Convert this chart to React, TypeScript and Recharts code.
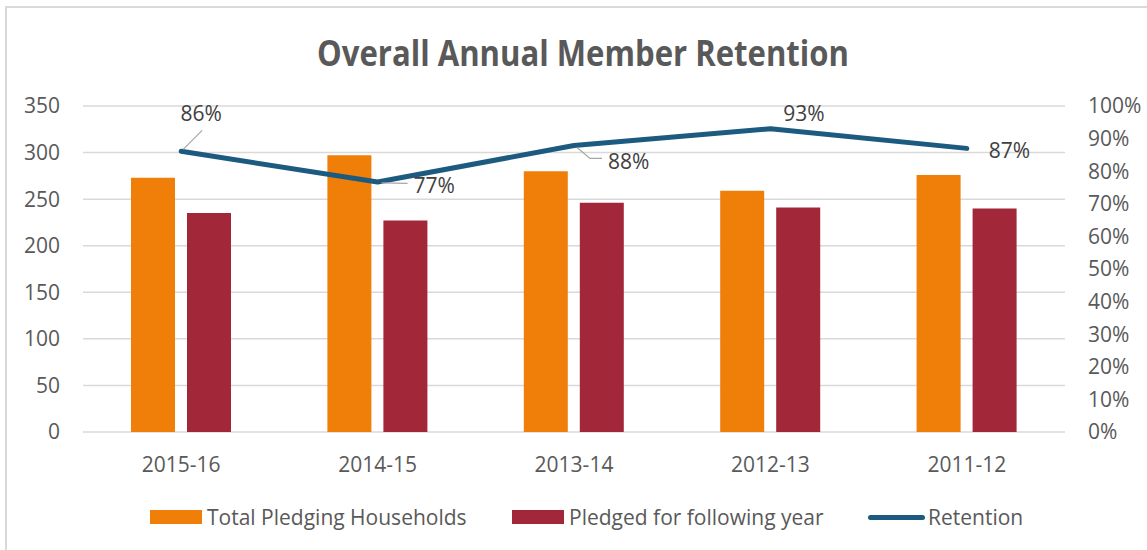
import React from 'react';
import { ComposedChart, Bar, Line, XAxis, YAxis, CartesianGrid, Legend, LabelList } from 'recharts';

const categories = ['2015-16', '2014-15', '2013-14', '2012-13', '2011-12'];
const totalPledging = [273, 297, 280, 259, 276];
const pledgedFollowing = [235, 227, 246, 241, 240];
const retention = [0.861, 0.767, 0.879, 0.93, 0.87];
const leftTicks = [0, 50, 100, 150, 200, 250, 300, 350];
const rightTicks = [0, 0.1, 0.2, 0.3, 0.4, 0.5, 0.6, 0.7, 0.8, 0.9, 1];

const data = categories.map((c, i) => ({
  category: c,
  total: totalPledging[i],
  pledged: pledgedFollowing[i],
  retention: retention[i],
}));

const FONT = '"Open Sans", "Noto Sans", sans-serif';
const AXIS_COLOR = '#595959';
const ORANGE = '#F07F09';
const RED = '#A12739';
const BLUE = '#1C5A80';

const labelPlacement: Record<number, { dx: number; dy: number; anchor: string; leader?: number[][] }> = {
  0: { dx: 20, dy: -38, anchor: 'middle', leader: [[2, -2], [21, -21]] },
  1: { dx: 36, dy: 3.5, anchor: 'start', leader: [[4, 1], [30, 1.5]] },
  2: { dx: 34, dy: 15.5, anchor: 'start', leader: [[3, 2], [16, 13], [28, 13]] },
  3: { dx: 33.5, dy: -16, anchor: 'middle' },
  4: { dx: 22, dy: 1.5, anchor: 'start' },
};

const RetentionLabel = (props: any) => {
  const { x, y, value, index } = props;
  const p = labelPlacement[index] || { dx: 0, dy: -15, anchor: 'middle' };
  return (
    <g>
      {p.leader && (
        <polyline
          points={p.leader.map(([a, b]) => `${x + a},${y + b}`).join(' ')}
          fill="none"
          stroke="#A6A6A6"
          strokeWidth={1.2}
        />
      )}
      <text
        x={x + p.dx}
        y={y + p.dy}
        textAnchor={p.anchor as any}
        dominantBaseline="central"
        fill="#404040"
        fontSize={21}
        fontFamily={FONT}
      >
        {`${Math.round(value * 100)}%`}
      </text>
    </g>
  );
};

const legendPositions = [150, 512, 868];

const LegendContent = (props: any) => {
  const payload = props.payload || [];
  const order = ['total', 'pledged', 'retention'];
  const items = order.map((k) => payload.find((p: any) => p.dataKey === k)).filter(Boolean);
  return (
    <div style={{ position: 'relative', width: 1147, height: 40 }}>
      {items.map((item: any, i: number) => (
        <div
          key={item.dataKey}
          style={{
            position: 'absolute',
            left: legendPositions[i],
            top: 0,
            height: 40,
            display: 'flex',
            alignItems: 'center',
            whiteSpace: 'nowrap',
          }}
        >
          {item.type === 'line' ? (
            <div style={{ width: 57, height: 5, borderRadius: 3, background: item.color, marginRight: 3 }} />
          ) : (
            <div style={{ width: 52, height: 14, background: item.color, marginRight: 5 }} />
          )}
          <span style={{ fontFamily: FONT, fontSize: 21, color: AXIS_COLOR }}>{item.value}</span>
        </div>
      ))}
    </div>
  );
};

export default function App() {
  return (
    <div
      style={{
        position: 'absolute',
        left: 0,
        top: 0,
        width: 1147,
        height: 550,
        overflow: 'hidden',
        background: '#FFFFFF',
      }}
    >
      <div
        style={{
          position: 'absolute',
          left: 5,
          top: 6,
          width: 1200,
          height: 600,
          border: '2px solid #D9D9D9',
          boxSizing: 'border-box',
        }}
      />
      <svg style={{ position: 'absolute', left: 0, top: 0 }} width={1147} height={90}>
        <text
          x={317}
          y={66}
          textLength={532}
          lengthAdjust="spacingAndGlyphs"
          fontFamily={FONT}
          fontWeight={700}
          fontSize={36}
          fill={AXIS_COLOR}
        >
          Overall Annual Member Retention
        </text>
      </svg>
      <div style={{ position: 'absolute', left: 0, top: 0 }}>
        <ComposedChart
          width={1147}
          height={550}
          data={data}
          barGap={12}
          margin={{ top: 106, right: 0, left: 0, bottom: 78 }}
        >
          <CartesianGrid yAxisId="left" vertical={false} stroke="#D9D9D9" strokeWidth={1.5} />
          <XAxis
            dataKey="category"
            axisLine={false}
            tickLine={false}
            height={40}
            tickMargin={19}
            tick={{ fill: AXIS_COLOR, fontSize: 21, fontFamily: FONT }}
          />
          <YAxis
            yAxisId="left"
            orientation="left"
            width={83}
            domain={[0, 350]}
            ticks={leftTicks}
            axisLine={false}
            tickLine={false}
            tickMargin={17}
            tick={{ fill: AXIS_COLOR, fontSize: 21, fontFamily: FONT }}
          />
          <YAxis
            yAxisId="right"
            orientation="right"
            width={82}
            domain={[0, 1]}
            ticks={rightTicks}
            axisLine={false}
            tickLine={false}
            tickMargin={17}
            tickFormatter={(v: number) => `${Math.round(v * 100)}%`}
            tick={{ fill: AXIS_COLOR, fontSize: 21, fontFamily: FONT }}
          />
          <Bar
            yAxisId="left"
            dataKey="total"
            name="Total Pledging Households"
            fill={ORANGE}
            barSize={44}
            isAnimationActive={false}
          />
          <Bar
            yAxisId="left"
            dataKey="pledged"
            name="Pledged for following year"
            fill={RED}
            barSize={44}
            isAnimationActive={false}
          />
          <Line
            yAxisId="right"
            dataKey="retention"
            name="Retention"
            type="linear"
            stroke={BLUE}
            strokeWidth={5}
            strokeLinecap="round"
            strokeLinejoin="round"
            dot={false}
            activeDot={false}
            legendType="line"
            isAnimationActive={false}
          >
            <LabelList dataKey="retention" content={RetentionLabel} />
          </Line>
          <Legend
            layout="horizontal"
            verticalAlign="middle"
            align="center"
            content={LegendContent}
            wrapperStyle={{ top: 497, left: 0, width: 1147, height: 40 }}
          />
        </ComposedChart>
      </div>
    </div>
  );
}
